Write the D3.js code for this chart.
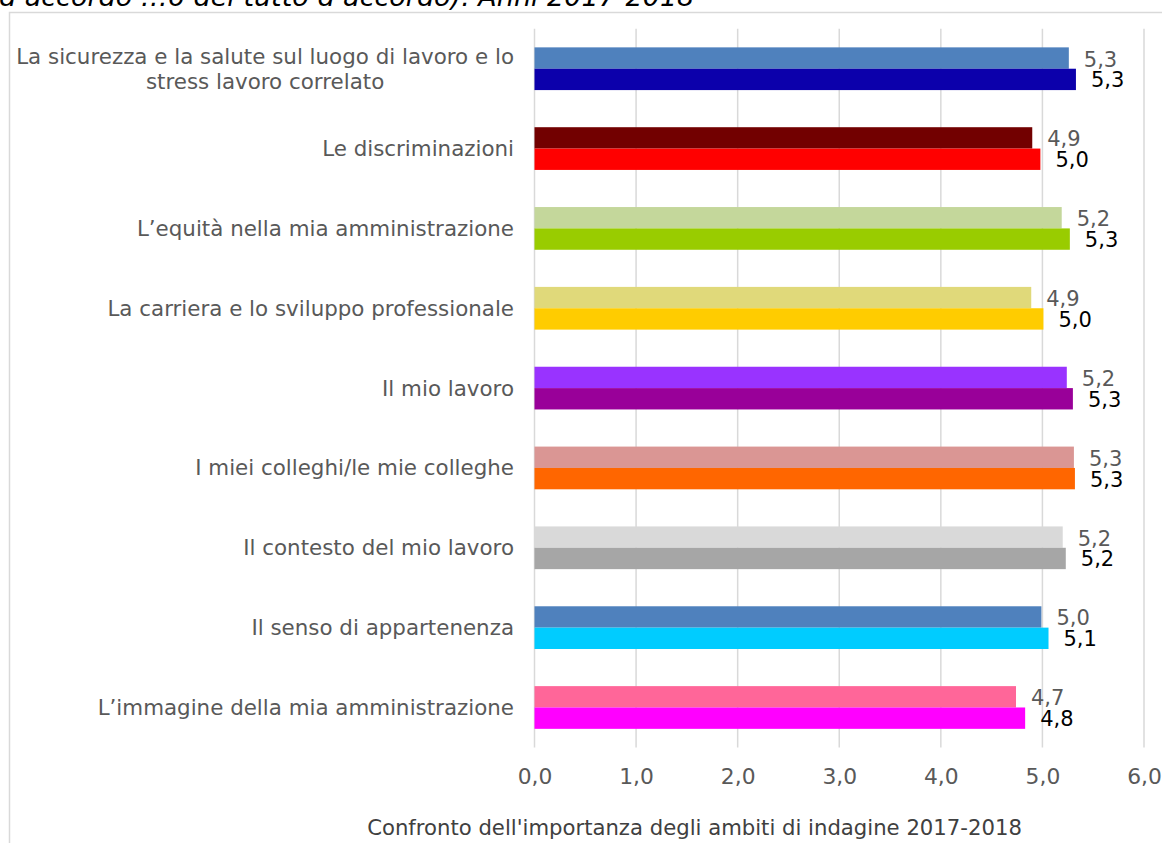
<!DOCTYPE html>
<html>
<head>
<meta charset="utf-8">
<script src="https://cdn.jsdelivr.net/npm/d3@7"></script>
<style>
  html, body { margin: 0; padding: 0; background: #fff; overflow: hidden; }
  svg { display: block; font-family: "DejaVu Sans", Verdana, sans-serif; }
</style>
</head>
<body>
<svg id="chart"></svg>
<script>
// data
const categories = [
    "La sicurezza e la salute sul luogo di lavoro e lo|stress lavoro correlato",
    "Le discriminazioni",
    "L\u2019equità nella mia amministrazione",
    "La carriera e lo sviluppo professionale",
    "Il mio lavoro",
    "I miei colleghi/le mie colleghe",
    "Il contesto del mio lavoro",
    "Il senso di appartenenza",
    "L\u2019immagine della mia amministrazione"
];
const values2017 = [5.26, 4.90, 5.19, 4.89, 5.24, 5.31, 5.20, 4.99, 4.74];
const values2018 = [5.33, 4.98, 5.27, 5.01, 5.30, 5.32, 5.23, 5.06, 4.83];
const colors2017 = ["#4f81bd", "#720000", "#c4d79b", "#e0d97a", "#9933ff", "#da9694", "#d9d9d9", "#4f81bd", "#ff6699"];
const colors2018 = ["#0c00ab", "#ff0000", "#99cc00", "#ffcc00", "#990099", "#ff6600", "#a6a6a6", "#00ccff", "#ff00ff"];
const xTicks = [0, 1, 2, 3, 4, 5, 6];
const titleText = "d\u2019accordo \u20266 del tutto d\u2019accordo). Anni 2017-2018";
const axisTitle = "Confronto dell'importanza degli ambiti di indagine 2017-2018";

const W = 1162, H = 843;
const plot = { left: 534.5, right: 1144, top: 28.8, bottom: 747.4 };
const fmt = v => d3.format(".1f")(v).replace(".", ",");

const svg = d3.select("#chart").attr("width", W).attr("height", H);

// cut-off title line above the frame
svg.append("text")
    .attr("x", -1)
    .attr("y", 6)
    .attr("font-size", 27)
    .attr("font-style", "italic")
    .attr("fill", "#000")
    .text(titleText);

// chart frame
svg.append("rect")
    .attr("x", 9.5).attr("y", 12.5)
    .attr("width", W + 20).attr("height", H + 20)
    .attr("fill", "none")
    .attr("stroke", "#d9d9d9")
    .attr("stroke-width", 1.5);

const xScale = d3.scaleLinear().domain([0, 6]).range([plot.left, plot.right]);
const yScale = d3.scaleBand()
    .domain(d3.range(categories.length))
    .range([plot.top, plot.bottom])
    .paddingInner(0.465)
    .paddingOuter(0.2325);
const inner = d3.scaleBand().domain(["2017", "2018"]).range([0, yScale.bandwidth()]);

// gridlines
svg.append("g")
    .selectAll("line")
    .data(xTicks)
    .join("line")
    .attr("x1", d => xScale(d)).attr("x2", d => xScale(d))
    .attr("y1", plot.top).attr("y2", plot.bottom)
    .attr("stroke", "#d9d9d9")
    .attr("stroke-width", 1.5);

// x axis labels
const xAxis = d3.axisBottom(xScale).tickValues(xTicks).tickFormat(fmt).tickSize(0).tickPadding(0);
const gx = svg.append("g")
    .attr("transform", `translate(0,${plot.bottom})`)
    .call(xAxis);
gx.select(".domain").remove();
gx.selectAll("text")
    .attr("dy", null)
    .attr("y", 36.5)
    .attr("font-size", 21.8)
    .attr("font-family", "DejaVu Sans")
    .attr("fill", "#595959");

// bars
const rows = svg.append("g")
    .selectAll("g")
    .data(categories.map((c, i) => ({ i, c, v17: values2017[i], v18: values2018[i] })))
    .join("g")
    .attr("transform", d => `translate(0,${yScale(d.i)})`);

rows.append("rect")
    .attr("x", xScale(0))
    .attr("y", inner("2017"))
    .attr("width", d => xScale(d.v17) - xScale(0))
    .attr("height", inner.bandwidth())
    .attr("fill", d => colors2017[d.i]);

rows.append("rect")
    .attr("x", xScale(0))
    .attr("y", inner("2018"))
    .attr("width", d => xScale(d.v18) - xScale(0))
    .attr("height", inner.bandwidth())
    .attr("fill", d => colors2018[d.i]);

// value labels
rows.append("text")
    .attr("x", d => xScale(d.v17) + 15)
    .attr("y", inner("2017") + inner.bandwidth() / 2 + 8.5)
    .attr("font-size", 21)
    .attr("fill", "#595959")
    .text(d => fmt(d.v17));

rows.append("text")
    .attr("x", d => xScale(d.v18) + 15)
    .attr("y", inner("2018") + inner.bandwidth() / 2 + 8)
    .attr("font-size", 21)
    .attr("fill", "#000")
    .text(d => fmt(d.v18));

// category labels
const labelX = 514;
rows.each(function (d) {
    const g = d3.select(this);
    const lines = d.c.split("|");
    const mid = yScale.bandwidth() / 2;
    if (lines.length === 1) {
        g.append("text")
            .attr("x", labelX)
            .attr("y", mid + 7.5)
            .attr("text-anchor", "end")
            .attr("font-size", 21.4)
            .attr("fill", "#595959")
            .text(lines[0]);
    } else {
        const first = g.append("text")
            .attr("x", labelX)
            .attr("y", mid - 12.3 + 7.5)
            .attr("text-anchor", "end")
            .attr("font-size", 21.4)
            .attr("fill", "#595959")
            .text(lines[0]);
        const w = first.node().getComputedTextLength();
        g.append("text")
            .attr("x", labelX - w / 2)
            .attr("y", mid + 12.3 + 7.5)
            .attr("text-anchor", "middle")
            .attr("font-size", 21.4)
            .attr("fill", "#595959")
            .text(lines[1]);
    }
});

// axis title
svg.append("text")
    .attr("x", 694.5)
    .attr("y", 835)
    .attr("text-anchor", "middle")
    .attr("font-size", 21.2)
    .attr("fill", "#404040")
    .text(axisTitle);
</script>
</body>
</html>
